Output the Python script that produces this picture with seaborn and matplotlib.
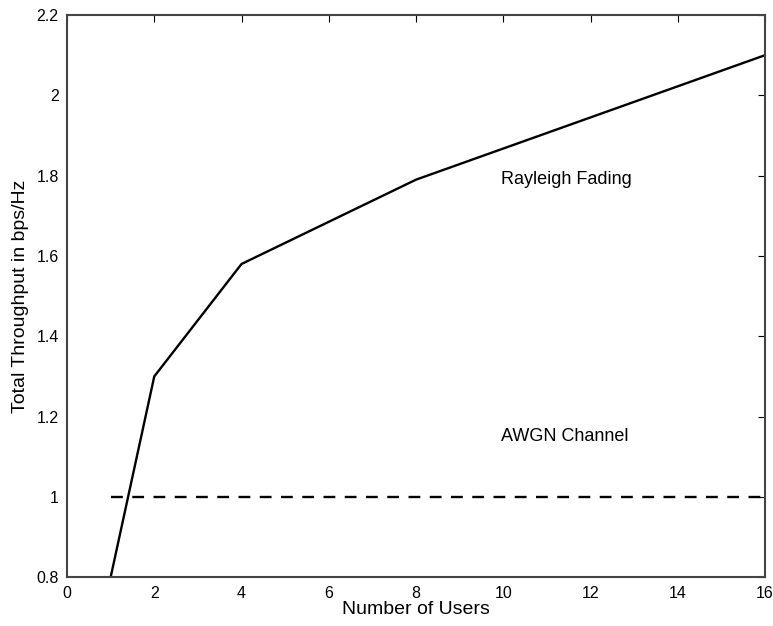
import numpy as np
import pandas as pd
import matplotlib
matplotlib.use('Agg')
import matplotlib.pyplot as plt
import seaborn as sns

# data
users = [1, 2, 4, 8, 16]
rayleigh = [0.8, 1.3, 1.58, 1.79, 2.1]
awgn_x = [1, 16]
awgn_y = [1.0, 1.0]

sns.set_style('white')
plt.rcParams['font.family'] = ['Liberation Sans', 'DejaVu Sans']
plt.rcParams['text.color'] = 'black'
plt.rcParams['axes.labelcolor'] = 'black'
plt.rcParams['xtick.color'] = 'black'
plt.rcParams['ytick.color'] = 'black'

fig = plt.figure(figsize=(7.73, 6.26), dpi=100)
ax = fig.add_axes([0.0867, 0.078, 0.903, 0.898])

df = pd.DataFrame({'users': users, 'thr': rayleigh})
sns.lineplot(data=df, x='users', y='thr', ax=ax, color='black', linewidth=1.7)
sns.lineplot(x=awgn_x, y=awgn_y, ax=ax, color='black', linewidth=1.7,
             linestyle=(0, (5, 4)))

ax.set_xlim(0, 16)
ax.set_ylim(0.8, 2.2)
ax.set_xticks(np.arange(0, 17, 2))
ax.set_yticks([0.8, 1, 1.2, 1.4, 1.6, 1.8, 2, 2.2])
ax.set_yticklabels(['0.8', '1', '1.2', '1.4', '1.6', '1.8', '2', '2.2'])
ax.tick_params(direction='in', length=5, top=True, right=True,
               labelsize=11.5, pad=6)
for s in ax.spines.values():
    s.set_color('#444444')
    s.set_linewidth(1.5)

ax.set_xlabel('Number of Users', fontsize=14, labelpad=0)
ax.set_ylabel('Total Throughput in bps/Hz', fontsize=14, labelpad=5)

ax.text(9.95, 1.79, 'Rayleigh Fading', fontsize=13, va='center')
ax.text(9.95, 1.15, 'AWGN Channel', fontsize=13, va='center')

fig.savefig('out.png', dpi=100)
